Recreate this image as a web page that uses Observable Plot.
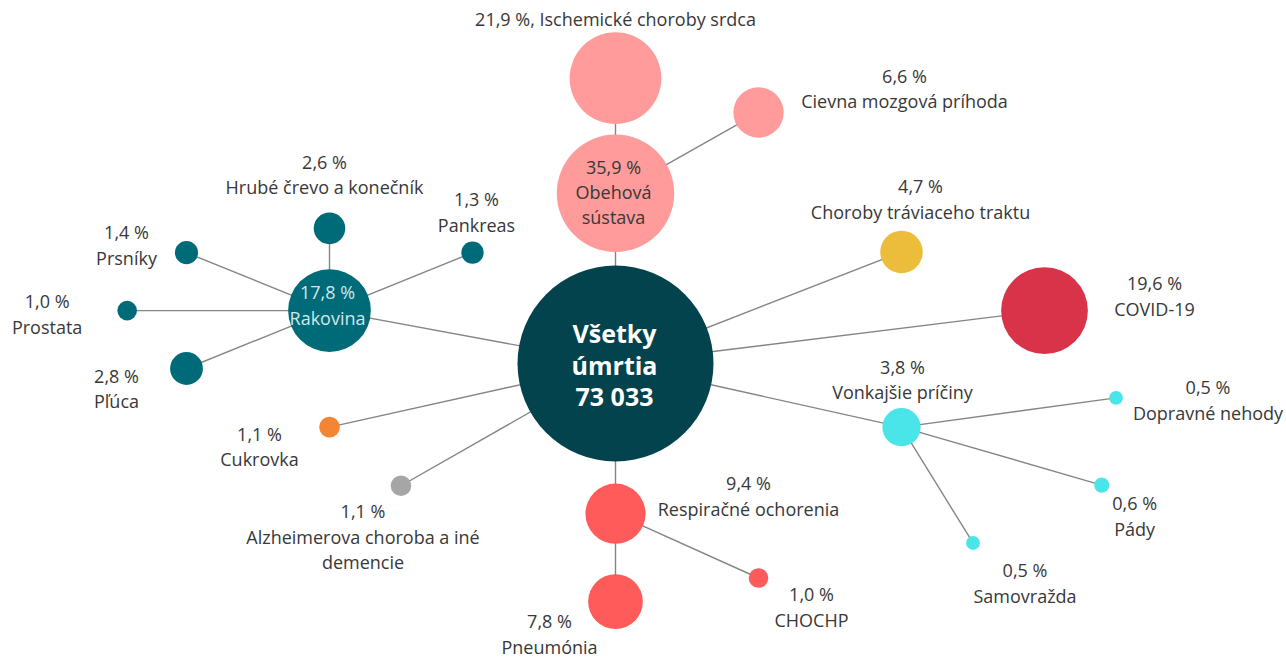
<!DOCTYPE html>
<html>
<head>
<meta charset="utf-8">
<script src="https://cdn.jsdelivr.net/npm/d3@7"></script>
<script src="https://cdn.jsdelivr.net/npm/@observablehq/plot@0.6"></script>
<style>
  html, body { margin: 0; padding: 0; background: #fff; }
  #chart svg { display: block; }
</style>
</head>
<body>
<div id="chart"></div>
<script>
// ---- data ----
const totalDeaths = "73 033";
const names = [
  "Všetky úmrtia",
  "Obehová sústava", "Ischemické choroby srdca", "Cievna mozgová príhoda",
  "Choroby tráviaceho traktu", "COVID-19",
  "Vonkajšie príčiny", "Dopravné nehody", "Pády", "Samovražda",
  "Respiračné ochorenia", "Pneumónia", "CHOCHP",
  "Alzheimerova choroba a iné\ndemencie", "Cukrovka",
  "Rakovina", "Hrubé črevo a konečník", "Pankreas", "Prsníky", "Prostata", "Pľúca"
];
const parents = [
  null,
  0, 1, 1,
  0, 0,
  0, 6, 6, 6,
  0, 10, 10,
  0, 0,
  0, 15, 15, 15, 15, 15
];
const shares = [
  100,
  35.9, 21.9, 6.6,
  4.7, 19.6,
  3.8, 0.5, 0.6, 0.5,
  9.4, 7.8, 1.0,
  1.1, 1.1,
  17.8, 2.6, 1.3, 1.4, 1.0, 2.8
];
const groups = [
  "all",
  "circ", "circ", "circ",
  "dig", "covid",
  "ext", "ext", "ext", "ext",
  "resp", "resp", "resp",
  "alz", "diab",
  "canc", "canc", "canc", "canc", "canc", "canc"
];
const groupKeys = ["all", "circ", "dig", "covid", "ext", "resp", "alz", "diab", "canc"];
const groupColors = ["#03434d", "#ff9b9b", "#ebbd3b", "#d9334a", "#4ae5e8", "#ff5b5b", "#a6a6a6", "#f58433", "#006b78"];

// ---- layout (grid units) ----
const gx = [0, 0, 0, 2, 4, 6, 4, 7, 6.8, 5, 0, 0, 2, -3, -4, -4, -4, -2, -6, -6.83, -6];
const gy = [0, 2.38, 3.99, 3.51, 1.56, 0.74, -0.89, -0.48, -1.7, -2.51, -2.1, -3.33, -3.0, -1.71, -0.89, 0.74, 1.89, 1.55, 1.55, 0.74, -0.07];
// label block offsets from node centre (px)
const labelDx = [-1, -2, 0, 146, 19, 110, 1, 92, 33, 52, 133, -66, 53, -38, -70, -2, -5, 4, -60, -80, -70];
const labelDy = [1, -2, -60, -25, -54, -16, -49, 1, 30, 39, -19, 31, 28, 50, 18, -7, -55, -42, -9, 2, 19];

const U = 71.5, W = 1286, H = 657, OX = 615, OY = 363;
const fmt = v => v.toFixed(1).replace(".", ",") + " %";

const nodes = names.map((n, i) => ({
  name: n, share: shares[i], group: groups[i], parent: parents[i],
  x: gx[i], y: gy[i],
  lx: gx[i] + labelDx[i] / U, ly: gy[i] - labelDy[i] / U
}));
const links = nodes.filter(d => d.parent !== null).map(d => ({
  x1: nodes[d.parent].x, y1: nodes[d.parent].y, x2: d.x, y2: d.y
}));

const labelText = (d, i) => {
  if (i === 0) return "Všetky\númrtia\n" + totalDeaths;
  if (i === 2) return fmt(d.share) + ", " + d.name;
  if (i === 1) return fmt(d.share) + "\nObehová\nsústava";
  return fmt(d.share) + "\n" + d.name;
};
const labels = nodes.map((d, i) => ({...d, text: labelText(d, i), idx: i}));
const outer = labels.filter(d => d.idx !== 0 && d.idx !== 15 && d.idx !== 1);

const chart = Plot.plot({
  width: W, height: H,
  margin: 0,
  x: {domain: [-OX / U, (W - OX) / U], axis: null},
  y: {domain: [(OY - H) / U, OY / U], axis: null},
  r: {type: "sqrt", domain: [0, 100], range: [0, 98]},
  color: {domain: groupKeys, range: groupColors},
  style: {fontFamily: "'Open Sans', 'Noto Sans', sans-serif", background: "#fff"},
  marks: [
    Plot.link(links, {x1: "x1", y1: "y1", x2: "x2", y2: "y2", stroke: "#858585", strokeWidth: 1.4}),
    Plot.dot(nodes, {x: "x", y: "y", r: "share", fill: "group", stroke: "none"}),
    Plot.text(outer, {x: "lx", y: "ly", text: "text", fill: "#383838", fontSize: 18, lineHeight: 1.42, textAnchor: "middle"}),
    Plot.text(labels.filter(d => d.idx === 1), {x: "lx", y: "ly", text: "text", fill: "#383838", fontSize: 18, lineHeight: 1.39, textAnchor: "middle"}),
    Plot.text(labels.filter(d => d.idx === 15), {x: "lx", y: "ly", text: "text", fill: "#d3e6ea", fontSize: 18, lineHeight: 1.42, textAnchor: "middle"}),
    Plot.text(labels.filter(d => d.idx === 0), {x: "lx", y: "ly", text: "text", fill: "#fff", fontSize: 25, fontWeight: "bold", lineHeight: 1.25, textAnchor: "middle"})
  ]
});
document.getElementById("chart").appendChild(chart);
</script>
</body>
</html>
